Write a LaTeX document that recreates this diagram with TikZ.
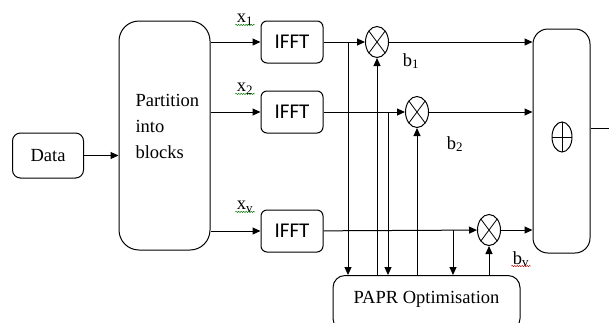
\documentclass[tikz,border=0pt]{standalone}
\usepackage{fontspec}
\setmainfont{Liberation Serif}
\newfontfamily\calib{Carlito}
\usetikzlibrary{arrows.meta,shapes.geometric,decorations.pathmorphing}
\begin{document}
\begin{tikzpicture}[x=1pt,y=-1pt,
  line width=1pt,
  font=\fontsize{18.5}{26}\selectfont,
  arr/.style={-{Triangle[length=8pt,width=7pt]}},
  blk/.style={draw,rounded corners=#1,inner sep=0pt},
  blk/.default=6pt,
  fftbox/.style={blk=6pt,minimum width=62pt,minimum height=42pt,font=\calib\fontsize{21}{21}\selectfont},
  mult/.style={draw,ellipse,minimum width=23pt,minimum height=31pt,inner sep=0pt,
    path picture={\draw[line width=0.8pt] (path picture bounding box.north west) -- (path picture bounding box.south east)
      (path picture bounding box.north east) -- (path picture bounding box.south west);}},
  plusn/.style={draw,ellipse,minimum width=20pt,minimum height=30pt,inner sep=0pt,line width=1pt,
    path picture={\draw[line width=0.8pt] (path picture bounding box.north) -- (path picture bounding box.south)
      (path picture bounding box.east) -- (path picture bounding box.west);}},
  lbl/.style={inner sep=1pt},
  wavy/.style={line width=0.5pt,decorate,decoration={snake,amplitude=0.6pt,segment length=2.5pt}}
]
\path[use as bounding box] (0,0) rectangle (609,322);
\clip (0,0) rectangle (609,322);

% blocks
\node[blk=8pt,minimum width=71pt,minimum height=45pt] (data) at (48,155.5) {Data};
\node[blk=20pt,minimum width=91pt,minimum height=229pt] (part) at (164.5,135.5) {};
\node[text width=60pt,align=left,inner sep=0pt] (parttxt) at (165.5,126) {Partition\\into\\blocks};

\node[fftbox] (i1) at (292,42) {IFFT};
\node[fftbox] (i2) at (292,112) {IFFT};
\node[fftbox] (i3) at (292,231) {IFFT};

\node[mult] (m1) at (377,42) {};
\node[mult] (m2) at (417,112) {};
\node[mult] (m3) at (489,230) {};

\node[blk=15pt,minimum width=57pt,minimum height=224pt] (add) at (561.5,141) {};
\node[plusn] (pl) at (562,137) {};

\node[draw,rounded corners=12pt,minimum width=187pt,anchor=north,text height=13pt,text depth=12pt,inner ysep=15pt] (papr) at (426.5,275) {PAPR Optimisation};

% labels
\node[lbl] (x1) at (245,20) {x\textsubscript{1}};
\node[lbl] (x2) at (245,89) {x\textsubscript{2}};
\node[lbl] (xv) at (245,207) {x\textsubscript{v}};
\node[lbl] (b1) at (411,61) {b\textsubscript{1}};
\node[lbl] (b2) at (455,144) {b\textsubscript{2}};
\node[lbl] (bv) at (521,259) {b\textsubscript{v}};
\draw[wavy,green!45!black] ([yshift=-2pt]x1.base west) -- ([yshift=-2pt]x1.base east);
\draw[wavy,green!45!black] ([yshift=-2pt]x2.base west) -- ([yshift=-2pt]x2.base east);
\draw[wavy,green!45!black] ([yshift=-2pt]xv.base west) -- ([yshift=-2pt]xv.base east);
\draw[wavy,red!70!black] ([yshift=-2pt]bv.base west) -- ([yshift=-2pt]bv.base east);

% junction points
\coordinate (j1) at (348,42);
\coordinate (j2) at (388,112);
\coordinate (j3) at (453,230);
\coordinate (out) at (609,128);

% connectors
\draw[arr] (data.east) -- (data.east -| part.west);
\draw[arr] (part.east |- i1) -- (i1);
\draw[arr] (part.east |- i2) -- (i2);
\draw[arr] (part.east |- i3) -- (i3);
\draw[arr] (i1) -- (m1);
\draw[arr] (i2) -- (m2);
\draw[arr] (i3) -- (m3);
\draw[arr] (m1) -- (m1 -| add.west);
\draw[arr] (m2) -- (m2 -| add.west);
\draw[arr] (m3) -- (m3 -| add.west);
\draw (add.east |- out) -- (out);

\draw[arr] (j1) -- (j1 |- papr.north);
\draw[arr] (j2) -- (j2 |- papr.north);
\draw[arr] (j3) -- (j3 |- papr.north);
\draw[arr] (papr.north -| m1) -- (m1);
\draw[arr] (papr.north -| m2) -- (m2);
\draw[arr] (papr.north -| m3) -- (m3);
\end{tikzpicture}
\end{document}
